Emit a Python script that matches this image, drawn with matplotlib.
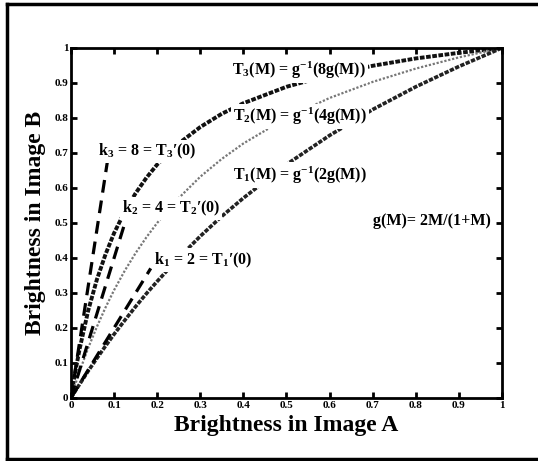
import matplotlib
matplotlib.use('Agg')
import matplotlib.pyplot as plt
from matplotlib.lines import Line2D

# brightness values
m = [0, 0.01, 0.02, 0.04, 0.06, 0.08, 0.1, 0.125, 0.15, 0.175, 0.2, 0.25,
     0.3, 0.35, 0.4, 0.5, 0.6, 0.7, 0.8, 0.9, 1.0]
t3 = [0, 0.075, 0.140, 0.250, 0.338, 0.410, 0.471, 0.533, 0.585, 0.629, 0.667, 0.727,
      0.774, 0.812, 0.842, 0.889, 0.923, 0.949, 0.970, 0.986, 1.0]
t2 = [0, 0.039, 0.076, 0.143, 0.203, 0.258, 0.308, 0.364, 0.414, 0.459, 0.500, 0.571,
      0.632, 0.683, 0.727, 0.800, 0.857, 0.903, 0.941, 0.973, 1.0]
t1 = [0, 0.020, 0.039, 0.077, 0.113, 0.148, 0.182, 0.222, 0.261, 0.298, 0.333, 0.400,
      0.462, 0.519, 0.571, 0.667, 0.750, 0.824, 0.889, 0.947, 1.0]

# tangent lines at the origin
tan3_x, tan3_y = [0, 0.085], [0, 0.68]
tan2_x, tan2_y = [0, 0.125], [0, 0.50]
tan1_x, tan1_y = [0, 0.185], [0, 0.37]

ticks = [0, 0.1, 0.2, 0.3, 0.4, 0.5, 0.6, 0.7, 0.8, 0.9, 1]
tick_labels = ['0', '0.1', '0.2', '0.3', '0.4', '0.5', '0.6', '0.7', '0.8', '0.9', '1']

plt.rcParams['font.family'] = ['Liberation Serif', 'DejaVu Serif']
plt.rcParams['font.weight'] = 'bold'
plt.rcParams['mathtext.fontset'] = 'custom'
plt.rcParams['mathtext.rm'] = 'Liberation Serif:bold'
plt.rcParams['mathtext.it'] = 'Liberation Serif:bold'
plt.rcParams['mathtext.bf'] = 'Liberation Serif:bold'
plt.rcParams['mathtext.default'] = 'rm'

fig = plt.figure(figsize=(5.38, 4.61), dpi=100)
ax = fig.add_axes([0.132, 0.137, 0.801, 0.759])

ax.plot(m, t3, color='#111111', lw=2.8, ls=(0, (1.2, 0.4)))
ax.plot(m, t2, color='#777777', lw=1.6, ls=(0, (1, 0.8)))
ax.plot(m, t1, color='#222222', lw=2.6, ls=(0, (1.2, 0.4)))

for tx, ty in [(tan3_x, tan3_y), (tan2_x, tan2_y), (tan1_x, tan1_y)]:
    ax.plot(tx, ty, color='black', lw=2.3, ls=(0, (4, 2.5)))

box = dict(facecolor='white', edgecolor='none', pad=1.5)
fs = 11.5
ax.text(0.374, 0.937, 'T$_3$(M) = g$^{-1}$(8g(M))', fontsize=fs, va='center', bbox=box)
ax.text(0.377, 0.804, 'T$_2$(M) = g$^{-1}$(4g(M))', fontsize=fs, va='center', bbox=box)
ax.text(0.377, 0.637, 'T$_1$(M) = g$^{-1}$(2g(M))', fontsize=fs, va='center', bbox=box)
ax.text(0.063, 0.704, 'k$_3$ = 8 = T$_3$\u2032(0)', fontsize=fs, va='center', bbox=box)
ax.text(0.118, 0.542, 'k$_2$ = 4 = T$_2$\u2032(0)', fontsize=fs, va='center', bbox=box)
ax.text(0.193, 0.394, 'k$_1$ = 2 = T$_1$\u2032(0)', fontsize=fs, va='center', bbox=box)
ax.text(0.701, 0.504, 'g(M)= 2M/(1+M)', fontsize=fs, va='center')

ax.set_xlim(0, 1)
ax.set_ylim(0, 1)
ax.set_xticks(ticks)
ax.set_yticks(ticks)
ax.set_xticklabels(tick_labels)
ax.set_yticklabels(tick_labels)
ax.tick_params(direction='in', top=True, right=True, length=4, width=2,
               labelsize=8, pad=2)
for s in ax.spines.values():
    s.set_linewidth(2)

ax.set_xlabel('Brightness in Image A', fontsize=17, fontweight='bold', labelpad=4)
ax.set_ylabel('Brightness in Image B', fontsize=17, fontweight='bold', labelpad=6)

# frame around the figure (right edge falls outside the image)
for xs, ys in [([0.013, 1.0], [0.991, 0.991]), ([0.013, 0.013], [0.004, 0.991]),
               ([0.013, 1.0], [0.004, 0.004])]:
    fig.add_artist(Line2D(xs, ys, color='black', lw=2.5, transform=fig.transFigure))

fig.savefig('out.png', dpi=100)
